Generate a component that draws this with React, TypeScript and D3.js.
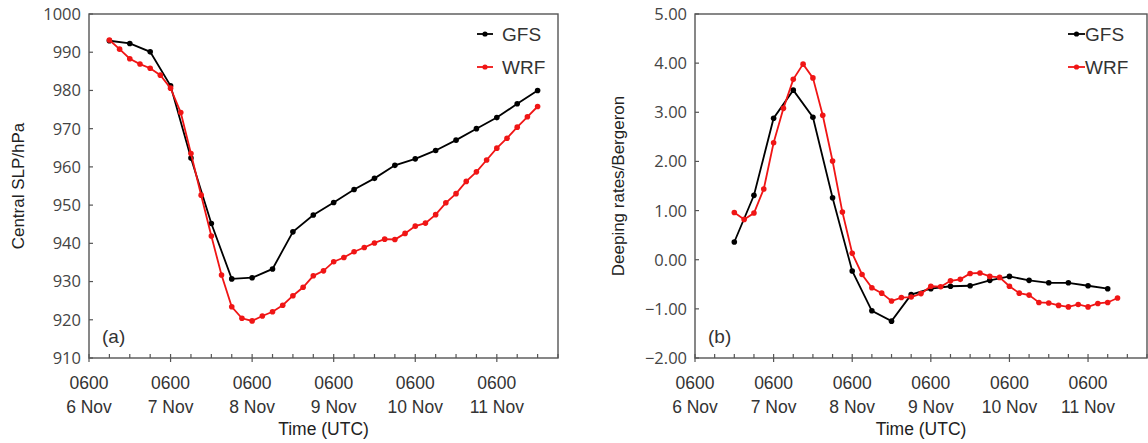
import React from "react";
import * as d3 from "d3";

// hours after 0600 UTC 6 Nov
const gfsHoursA = d3.range(6, 133, 6);
const wrfHoursA = d3.range(6, 133, 3);
const gfsHoursB = d3.range(12, 127, 6);
const wrfHoursB = d3.range(12, 130, 3);

const gfsSlp = [
  993.0, 992.3, 990.1, 981.2, 962.3, 945.2, 930.7, 931.0, 933.3, 943.0, 947.4,
  950.7, 954.1, 957.0, 960.4, 962.1, 964.3, 967.0, 970.0, 972.9, 976.5, 980.0,
];
const wrfSlp = [
  993.2, 990.8, 988.3, 986.9, 985.8, 984.0, 980.6, 974.2, 963.5, 952.6, 941.9,
  931.7, 923.4, 920.4, 919.7, 921.0, 922.1, 923.8, 926.3, 928.5, 931.5, 932.8,
  935.2, 936.3, 937.8, 938.9, 940.1, 941.1, 941.0, 942.6, 944.5, 945.3, 947.5,
  950.6, 953.0, 956.2, 958.7, 961.8, 964.9, 967.5, 970.4, 973.1, 975.8,
];
const gfsRate = [
  0.36, 1.31, 2.88, 3.45, 2.9, 1.26, -0.23, -1.04, -1.25, -0.71, -0.59, -0.54,
  -0.53, -0.42, -0.34, -0.42, -0.47, -0.47, -0.53, -0.59,
];
const wrfRate = [
  0.96, 0.82, 0.95, 1.44, 2.38, 3.08, 3.67, 3.98, 3.7, 2.94, 2.01, 0.97, 0.13,
  -0.3, -0.57, -0.68, -0.84, -0.77, -0.76, -0.69, -0.54, -0.55, -0.43, -0.4,
  -0.28, -0.27, -0.34, -0.36, -0.54, -0.68, -0.72, -0.87, -0.88, -0.93, -0.96,
  -0.91, -0.96, -0.89, -0.87, -0.78,
];

const dayLabels = ["6 Nov", "7 Nov", "8 Nov", "9 Nov", "10 Nov", "11 Nov"];
const slpTicks = [910, 920, 930, 940, 950, 960, 970, 980, 990, 1000];
const rateTicks = [-2, -1, 0, 1, 2, 3, 4, 5];

const xFont = "'Liberation Sans', Arial, sans-serif";
const yFont = "'Open Sans', 'Liberation Sans', sans-serif";

type Series = { hours: number[]; values: number[]; color: string };

type PanelProps = {
  left: number;
  right: number;
  top: number;
  bottom: number;
  yDomain: [number, number];
  yTicks: number[];
  yFmt: (v: number) => string;
  yTitle: string;
  yTitleX: number;
  tag: string;
  series: Series[];
  legendX: number;
  legendLineW: number;
  legendGap: number;
};

const Panel = (p: PanelProps) => {
  const x = d3.scaleLinear().domain([0, 138]).range([p.left, p.right]);
  const y = d3.scaleLinear().domain(p.yDomain).range([p.bottom, p.top]);
  const majors = d3.range(0, 121, 24);
  const minors = d3.range(0, 139, 6).filter((h) => h % 24 !== 0);
  const line = d3
    .line<[number, number]>()
    .x((d) => x(d[0]))
    .y((d) => y(d[1]));
  const axisCol = "#555";
  const midY = (p.top + p.bottom) / 2;
  const midX = (p.left + p.right) / 2;

  return (
    <g>
      <rect
        x={p.left}
        y={p.top}
        width={p.right - p.left}
        height={p.bottom - p.top}
        fill="none"
        stroke={axisCol}
        strokeWidth={1.4}
      />
      {p.yTicks.map((t) => (
        <g key={t}>
          <line x1={p.left} x2={p.left + 4} y1={y(t)} y2={y(t)} stroke={axisCol} strokeWidth={1.2} />
          <text
            x={p.left - 8}
            y={y(t)}
            dy="0.36em"
            textAnchor="end"
            fontFamily={yFont}
            fontSize={16.5}
            fill="#444"
          >
            {p.yFmt(t)}
          </text>
        </g>
      ))}
      {minors.map((h) => (
        <line key={h} x1={x(h)} x2={x(h)} y1={p.bottom} y2={p.bottom - 4} stroke={axisCol} strokeWidth={1.2} />
      ))}
      {majors.map((h, i) => (
        <g key={h}>
          <line x1={x(h)} x2={x(h)} y1={p.bottom + 4} y2={p.bottom - 4} stroke={axisCol} strokeWidth={1.2} />
          <text x={x(h)} y={p.bottom + 31} textAnchor="middle" fontFamily={xFont} fontSize={17.5} fill="#333">
            0600
          </text>
          <text x={x(h)} y={p.bottom + 55} textAnchor="middle" fontFamily={xFont} fontSize={17.5} fill="#333">
            {dayLabels[i]}
          </text>
        </g>
      ))}
      <text
        x={midX}
        y={p.bottom + 77}
        textAnchor="middle"
        fontFamily={xFont}
        fontSize={17.5}
        fill="#222"
      >
        Time (UTC)
      </text>
      <text
        transform={`translate(${p.yTitleX},${midY}) rotate(-90)`}
        textAnchor="middle"
        dy="0.36em"
        fontFamily={xFont}
        fontSize={17}
        fill="#222"
      >
        {p.yTitle}
      </text>
      <text x={p.left + 13} y={p.bottom - 22} dy="0.36em" fontFamily={xFont} fontSize={19} fill="#333">
        {p.tag}
      </text>
      {p.series.map((s, si) => {
        const pts = s.hours.map((h, i) => [h, s.values[i]] as [number, number]);
        return (
          <g key={si}>
            <path d={line(pts) || ""} fill="none" stroke={s.color} strokeWidth={1.8} />
            {pts.map((d, i) => (
              <circle key={i} cx={x(d[0])} cy={y(d[1])} r={2.8} fill={s.color} />
            ))}
          </g>
        );
      })}
      {p.series.map((s, si) => {
        const ly = p.top + 20 + si * 33;
        return (
          <g key={"lg" + si}>
            <line
              x1={p.legendX}
              x2={p.legendX + p.legendLineW}
              y1={ly}
              y2={ly}
              stroke={s.color}
              strokeWidth={1.8}
            />
            <circle cx={p.legendX + p.legendLineW / 2} cy={ly} r={2.6} fill={s.color} />
            <text
              x={p.legendX + p.legendLineW + p.legendGap}
              y={ly}
              dy="0.36em"
              fontFamily={xFont}
              fontSize={19}
              fill="#333"
            >
              {si === 0 ? "GFS" : "WRF"}
            </text>
          </g>
        );
      })}
    </g>
  );
};

export default function App() {
  return (
    <svg
      width={1148}
      height={443}
      style={{ position: "absolute", left: 0, top: 0, background: "#fff" }}
    >
      <Panel
        left={89}
        right={558}
        top={14}
        bottom={358}
        yDomain={[910, 1000]}
        yTicks={slpTicks}
        yFmt={(v) => String(v)}
        yTitle="Central SLP/hPa"
        yTitleX={18}
        tag="(a)"
        series={[
          { hours: gfsHoursA, values: gfsSlp, color: "#000" },
          { hours: wrfHoursA, values: wrfSlp, color: "#f01515" },
        ]}
        legendX={477}
        legendLineW={16}
        legendGap={9}
      />
      <Panel
        left={695}
        right={1147}
        top={14}
        bottom={358}
        yDomain={[-2, 5]}
        yTicks={rateTicks}
        yFmt={d3.format(".2f")}
        yTitle="Deeping rates/Bergeron"
        yTitleX={618}
        tag="(b)"
        series={[
          { hours: gfsHoursB, values: gfsRate, color: "#000" },
          { hours: wrfHoursB, values: wrfRate, color: "#f01515" },
        ]}
        legendX={1068}
        legendLineW={17}
        legendGap={0}
      />
    </svg>
  );
}
